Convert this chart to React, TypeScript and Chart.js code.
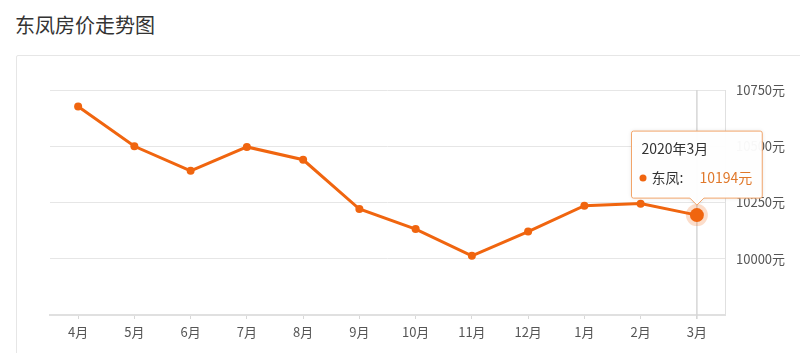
import React, { useEffect, useRef } from 'react';
import { Chart, registerables } from 'chart.js';

Chart.register(...registerables);

const chartTitle = '东凤房价走势图';
const seriesName = '东凤';
const months = ['4月', '5月', '6月', '7月', '8月', '9月', '10月', '11月', '12月', '1月', '2月', '3月'];
const prices = [10677, 10500, 10391, 10497, 10440, 10221, 10132, 10013, 10121, 10236, 10245, 10194];
const yTicks = [9750, 10000, 10250, 10500, 10750];
const tooltipTitle = '2020年3月';
const unit = '元';
const activeIndex = 11;

const LINE = '#f0650f';
const VALUE_COLOR = '#e0782a';
const FONT = '"Noto Sans CJK SC", "Noto Sans", sans-serif';

const overlayPlugin = {
  id: 'overlay',
  beforeDatasetsDraw(chart: any) {
    const { ctx, chartArea } = chart;
    const pt = chart.getDatasetMeta(0).data[activeIndex];
    if (!pt) return;
    ctx.save();
    ctx.strokeStyle = '#d6d6d6';
    ctx.lineWidth = 1.5;
    ctx.beginPath();
    ctx.moveTo(pt.x, chartArea.top);
    ctx.lineTo(pt.x, chartArea.bottom + 4);
    ctx.stroke();
    ctx.fillStyle = 'rgba(240,101,15,0.22)';
    ctx.beginPath();
    ctx.arc(pt.x, pt.y, 11, 0, Math.PI * 2);
    ctx.fill();
    ctx.restore();
  },
  afterDraw(chart: any) {
    const { ctx } = chart;
    const pt = chart.getDatasetMeta(0).data[activeIndex];
    if (!pt) return;
    const value = prices[activeIndex];
    ctx.save();
    ctx.font = `14px ${FONT}`;
    const titleW = ctx.measureText(tooltipTitle).width;
    const nameText = seriesName + ':';
    const nameW = ctx.measureText(nameText).width;
    const valText = value + unit;
    const valW = ctx.measureText(valText).width;
    const gap = 16;
    const pad = 10;
    const contentW = Math.max(titleW, 10 + nameW + gap + valW);
    const w = contentW + pad * 2;
    const h = 67;
    const caretSize = 7;
    const caretPad = 10;
    const x0 = pt.x - w / 2;
    const y0 = pt.y - caretPad - caretSize - h;
    const r = 2;
    ctx.beginPath();
    ctx.moveTo(x0 + r, y0);
    ctx.lineTo(x0 + w - r, y0);
    ctx.quadraticCurveTo(x0 + w, y0, x0 + w, y0 + r);
    ctx.lineTo(x0 + w, y0 + h - r);
    ctx.quadraticCurveTo(x0 + w, y0 + h, x0 + w - r, y0 + h);
    ctx.lineTo(pt.x + caretSize, y0 + h);
    ctx.lineTo(pt.x, y0 + h + caretSize);
    ctx.lineTo(pt.x - caretSize, y0 + h);
    ctx.lineTo(x0 + r, y0 + h);
    ctx.quadraticCurveTo(x0, y0 + h, x0, y0 + h - r);
    ctx.lineTo(x0, y0 + r);
    ctx.quadraticCurveTo(x0, y0, x0 + r, y0);
    ctx.closePath();
    ctx.shadowColor = 'rgba(0,0,0,0.12)';
    ctx.shadowBlur = 4;
    ctx.fillStyle = 'rgba(255,255,255,0.96)';
    ctx.fill();
    ctx.shadowColor = 'transparent';
    ctx.strokeStyle = '#f2a56a';
    ctx.lineWidth = 1;
    ctx.stroke();

    ctx.textBaseline = 'middle';
    ctx.textAlign = 'left';
    ctx.fillStyle = '#333';
    ctx.fillText(tooltipTitle, x0 + pad, y0 + 18);
    const by = y0 + 47;
    ctx.fillStyle = LINE;
    ctx.beginPath();
    ctx.arc(x0 + pad + 1.5, by, 3.5, 0, Math.PI * 2);
    ctx.fill();
    ctx.fillStyle = '#333';
    ctx.fillText(nameText, x0 + pad + 10, by);
    ctx.fillStyle = VALUE_COLOR;
    ctx.fillText(valText, x0 + pad + 10 + nameW + gap, by);
    ctx.restore();
  },
};

export default function App() {
  const canvasRef = useRef<HTMLCanvasElement>(null);

  useEffect(() => {
    if (!canvasRef.current) return;
    Chart.defaults.font.family = FONT;
    const chart = new Chart(canvasRef.current, {
      type: 'line',
      data: {
        labels: months,
        datasets: [
          {
            label: seriesName,
            data: prices,
            borderColor: LINE,
            backgroundColor: LINE,
            borderWidth: 3,
            tension: 0,
            pointRadius: (c: any) => (c.dataIndex === activeIndex ? 7 : 4),
            pointBackgroundColor: LINE,
            pointBorderWidth: 0,
            fill: false,
          },
        ],
      },
      options: {
        responsive: false,
        animation: false,
        events: [],
        layout: { padding: { left: 50, top: 90, right: 0, bottom: 0 } },
        plugins: { legend: { display: false }, tooltip: { enabled: false } },
        scales: {
          x: {
            offset: true,
            grid: { offset: false, drawOnChartArea: false, drawTicks: true, tickLength: 4, color: '#d8d8d8' },
            border: { color: '#e0e0e0', width: 2 },
            ticks: { color: '#555', font: { size: 13 }, padding: 5, autoSkip: false, maxRotation: 0 },
            afterFit: (s: any) => {
              s.height = 38;
            },
          },
          y: {
            position: 'right',
            min: 9750,
            max: 10750,
            afterBuildTicks: (axis: any) => {
              axis.ticks = yTicks.map((v) => ({ value: v }));
            },
            grid: { color: '#e6e6e6', drawTicks: false },
            border: { color: '#e0e0e0' },
            ticks: {
              padding: 11,
              color: '#555',
              font: { size: 13 },
              callback: (v: any) => (Number(v) === 9750 ? '' : v + unit),
            },
            afterFit: (s: any) => {
              s.width = 75;
            },
          },
        },
      },
      plugins: [overlayPlugin],
    } as any);
    return () => chart.destroy();
  }, []);

  return (
    <div style={{ position: 'fixed', left: 0, top: 0, width: 800, height: 353, background: '#fff', overflow: 'hidden' }}>
      <div
        style={{
          position: 'absolute',
          left: 15,
          top: 11,
          fontFamily: FONT,
          fontSize: 20,
          color: '#333',
          lineHeight: '28px',
        }}
      >
        {chartTitle}
      </div>
      <div
        style={{
          position: 'absolute',
          left: 16,
          top: 55,
          width: 820,
          height: 340,
          border: '1px solid #e6e6e6',
          borderRadius: 2,
          boxSizing: 'border-box',
        }}
      />
      <canvas ref={canvasRef} width={800} height={353} style={{ position: 'absolute', left: 0, top: 0 }} />
    </div>
  );
}
